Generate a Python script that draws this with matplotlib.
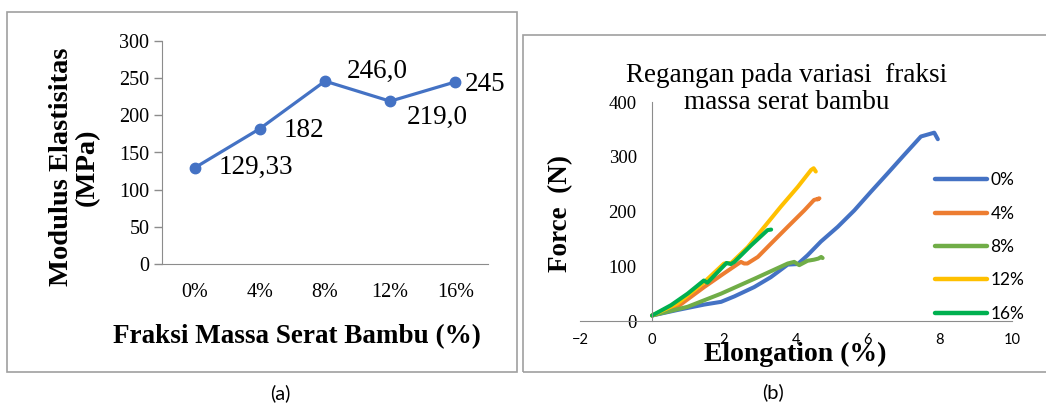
import matplotlib
matplotlib.use('Agg')
import matplotlib.pyplot as plt
from matplotlib.patches import Rectangle

# left panel: modulus of elasticity per fibre fraction
fractions = ['0%', '4%', '8%', '12%', '16%']
modulus = [129.33, 182, 246.0, 219.0, 245]
modulus_labels = ['129,33', '182', '246,0', '219,0', '245']

# right panel: force vs elongation curves
series_names = ['0%', '4%', '8%', '12%', '16%']
elong_0 = [0, 0.7, 1.45, 1.92, 2.29, 2.84, 3.3, 3.77, 4.05, 4.32, 4.69, 5.16, 5.62, 6.08, 6.55, 7.0, 7.47, 7.84, 7.94]
force_0 = [10, 20, 30, 35, 45, 62, 80, 103, 104, 120, 145, 172, 202, 236, 270, 303, 337, 344, 332]
elong_4 = [0, 0.71, 1.45, 2.0, 2.47, 2.56, 2.65, 2.94, 3.3, 3.77, 4.23, 4.5, 4.65, 4.6]
force_4 = [10, 26, 62, 87, 108, 105, 105, 117, 141, 172, 202, 221, 224, 222]
elong_8 = [0, 0.99, 1.92, 2.84, 3.77, 3.95, 4.09, 4.32, 4.5, 4.62, 4.7, 4.74]
force_8 = [10, 26, 50, 77, 105, 108, 102, 110, 112, 114, 117, 115]
elong_12 = [0, 0.71, 1.45, 2.0, 2.2, 2.66, 3.12, 3.58, 4.05, 4.42, 4.49, 4.55]
force_12 = [10, 32, 71, 105, 106, 135, 172, 209, 245, 276, 279, 273]
elong_16 = [0, 0.53, 0.99, 1.44, 1.54, 2.07, 2.19, 2.29, 2.75, 3.21, 3.31]
force_16 = [10, 29, 50, 74, 70, 106, 104, 108, 138, 166, 167]

W, H = 1046, 407
fig = plt.figure(figsize=(W / 100, H / 100), dpi=100)

serif = 'Liberation Serif'
sans = 'Lato'
axis_gray = '#8c8c8c'


def fx(px):
    return px / W


def fy(py):
    return 1 - py / H


# panel frames
fig.patches.append(Rectangle((fx(7), fy(372)), fx(510), 360 / H, transform=fig.transFigure,
                             fill=False, edgecolor='#a0a0a0', linewidth=1.2))
fig.patches.append(Rectangle((fx(523), fy(372)), fx(530), 337 / H, transform=fig.transFigure,
                             fill=False, edgecolor='#a0a0a0', linewidth=1.2))

# ---- panel (a)
ax1 = fig.add_axes([fx(162), fy(264), fx(326), 223 / H])
x_pos = list(range(len(fractions)))
ax1.plot(x_pos, modulus, color='#4472C4', linewidth=2.3, marker='o', markersize=7.5)
ax1.set_xlim(-0.5, 4.5)
ax1.set_ylim(0, 300)
ax1.set_yticks([0, 50, 100, 150, 200, 250, 300])
ax1.set_xticks(x_pos)
ax1.set_xticklabels(fractions)
for s in ['top', 'right']:
    ax1.spines[s].set_visible(False)
for s in ['left', 'bottom']:
    ax1.spines[s].set_color(axis_gray)
ax1.tick_params(axis='y', length=6, color=axis_gray, width=1, pad=3, labelsize=14.5)
ax1.tick_params(axis='x', length=0, pad=14, labelsize=14.5)
for lab in ax1.get_xticklabels() + ax1.get_yticklabels():
    lab.set_fontfamily(serif)

offsets = [(17, 0), (17, -1), (16, 7), (12, -12), (7, -2)]
for i, (val, txt) in enumerate(zip(modulus, modulus_labels)):
    ax1.annotate(txt, (i, val), xytext=offsets[i], textcoords='offset points',
                 ha='left', va='center', fontsize=19.5, family=serif)

fig.text(fx(74), fy(167), 'Modulus Elastisitas\n(MPa)', rotation=90, ha='center', va='center',
         fontsize=20.5, fontweight='bold', family=serif, linespacing=1.05)
fig.text(fx(297), fy(337), 'Fraksi Massa Serat Bambu (%)', ha='center', va='center',
         fontsize=19.5, fontweight='bold', family=serif)
fig.text(fx(280), fy(393), '(a)', ha='center', va='center', fontsize=14.5, family=sans)

# ---- panel (b)
ax2 = fig.add_axes([fx(580), fy(321), fx(432), 219 / H])
colors = ['#4472C4', '#ED7D31', '#70AD47', '#FFC000', '#00B050']
curves = [(elong_0, force_0), (elong_4, force_4), (elong_8, force_8),
          (elong_12, force_12), (elong_16, force_16)]
for (ex, fo), c, name in zip(curves, colors, series_names):
    ax2.plot(ex, fo, color=c, linewidth=2.9, label=name, solid_capstyle='round',
             solid_joinstyle='round')
ax2.set_xlim(-2, 10)
ax2.set_ylim(0, 400)
ax2.set_xticks([-2, 0, 2, 4, 6, 8, 10])
ax2.set_yticks([0, 100, 200, 300, 400])
ax2.spines['left'].set_position(('data', 0))
ax2.spines['bottom'].set_position(('data', 0))
for s in ['top', 'right']:
    ax2.spines[s].set_visible(False)
for s in ['left', 'bottom']:
    ax2.spines[s].set_color(axis_gray)
ax2.tick_params(axis='y', length=0, pad=11, labelsize=13.5)
ax2.tick_params(axis='x', length=0, pad=9, labelsize=10.5)
for lab in ax2.get_yticklabels():
    lab.set_fontfamily(serif)
for lab in ax2.get_xticklabels():
    lab.set_fontfamily(sans)

fig.text(fx(787), fy(89), 'Regangan pada variasi  fraksi\nmassa serat bambu', ha='center',
         va='center', fontsize=19.5, family=serif, linespacing=1.1)
fig.text(fx(561), fy(213), 'Force  (N)', rotation=90, ha='center', va='center',
         fontsize=19.5, fontweight='bold', family=serif)
fig.text(fx(795), fy(354), 'Elongation (%)', ha='center', va='center',
         fontsize=20, fontweight='bold', family=serif)
fig.text(fx(773), fy(392), '(b)', ha='center', va='center', fontsize=14.5, family=sans)

leg = ax2.legend(loc='center left', bbox_to_anchor=(fx(935), fy(247)), bbox_transform=fig.transFigure,
                 frameon=False, borderpad=0, borderaxespad=0, handlelength=3.0, handletextpad=0.2,
                 labelspacing=1.0, prop={'family': sans, 'size': 12.5})
for line in leg.get_lines():
    line.set_linewidth(3.2)

fig.savefig('out.png', dpi=100)
